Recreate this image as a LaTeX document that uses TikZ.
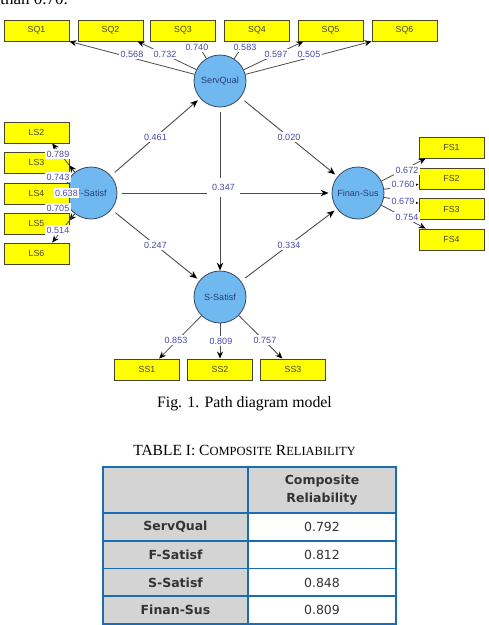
\documentclass[tikz,border=0pt]{standalone}
\usepackage{fontspec}
\setmainfont{Liberation Serif}
\newfontfamily\plsfont{Liberation Sans}
\newfontfamily\tabfont{DejaVu Sans}
\usetikzlibrary{arrows.meta, calc, positioning}

\definecolor{LatFill}{RGB}{112,184,240}
\definecolor{LatBorder}{RGB}{55,70,95}
\definecolor{LatText}{RGB}{40,60,115}
\definecolor{IndFill}{RGB}{255,255,0}
\definecolor{IndBorder}{RGB}{70,70,40}
\definecolor{IndText}{RGB}{70,70,40}
\definecolor{LoadText}{RGB}{72,72,170}
\definecolor{LinkGray}{RGB}{75,75,75}
\definecolor{TabBlue}{RGB}{28,108,180}
\definecolor{TabGray}{RGB}{212,212,212}

\begin{document}
\begin{tikzpicture}[x=1pt, y=-1pt, line width=0.8pt]
  \tikzstyle{latent}=[circle, draw=LatBorder, fill=LatFill, minimum size=52pt, inner sep=0pt,
    text=LatText, font=\plsfont\fontsize{9}{10}\selectfont]%
  \tikzstyle{indic}=[rectangle, draw=IndBorder, fill=IndFill, line width=0.9pt,
    minimum width=65pt, minimum height=21pt, inner sep=0pt,
    text=IndText, font=\plsfont\fontsize{8.8}{10}\selectfont]%
  \tikzstyle{load}=[fill=white, inner sep=1.5pt, text=LoadText,
    font=\plsfont\fontsize{9}{10}\selectfont]%
  \tikzstyle{link}=[draw=LinkGray, line width=0.9pt, shorten <=5pt, shorten >=3pt,
    -{Stealth[length=8pt, width=6.5pt, color=black]}]%
  \tikzstyle{loadarr}=[draw=LinkGray, line width=0.8pt,
    -{Stealth[length=7pt, width=6pt, color=black]}]%
  \tikzstyle{tabhead}=[font=\tabfont\bfseries\fontsize{12.5}{18}\selectfont, text=black!80]%
  \tikzstyle{tabval}=[font=\tabfont\fontsize{12.5}{14}\selectfont, text=black!80]%

  \useasboundingbox (0,0) rectangle (489,625);
  \clip (0,0) rectangle (489,625);

  % end of the paragraph above the figure
  \node[anchor=base west, inner sep=0pt, font=\fontsize{17}{20}\selectfont] (prev) at (0,4) {than 0.70.};

  % latent variables
  \node[latent] (SQ) at (220,81) {ServQual};
  \node[latent] (FSat) at (91,193) {F-Satisf};
  \node[latent] (SSat) at (220,297) {S-Satisf};
  \node[latent] (FS) at (358,193) {Finan-Sus};

  % indicators, top row
  \node[indic] (SQ1) at (36.5,30.5) {SQ1};
  \node[indic] (SQ2) at (110.5,30.5) {SQ2};
  \node[indic] (SQ3) at (183,30.5) {SQ3};
  \node[indic] (SQ4) at (257,30.5) {SQ4};
  \node[indic] (SQ5) at (330.5,30.5) {SQ5};
  \node[indic] (SQ6) at (404.5,30.5) {SQ6};
  % left column
  \node[indic] (LS2) at (36.5,132.5) {LS2};
  \node[indic] (LS3) at (36.5,162.5) {LS3};
  \node[indic] (LS4) at (36.5,193.5) {LS4};
  \node[indic] (LS5) at (36.5,223.5) {LS5};
  \node[indic] (LS6) at (36.5,253.5) {LS6};
  % right column
  \node[indic] (FS1) at (451.5,147.5) {FS1};
  \node[indic] (FS2) at (451.5,178.5) {FS2};
  \node[indic] (FS3) at (451.5,209) {FS3};
  \node[indic] (FS4) at (451.5,239.5) {FS4};
  % bottom row
  \node[indic] (SS1) at (147,369.5) {SS1};
  \node[indic] (SS2) at (220,369.5) {SS2};
  \node[indic] (SS3) at (293,369.5) {SS3};

  %% Paths
  % inner model
  \draw[link] (FSat) -- (SQ);
  \draw[link] (FSat) -- (FS);
  \draw[link] (FSat) -- (SSat);
  \draw[link] (SQ) -- (FS);
  \draw[link, shorten >=0pt] (SQ) -- (SSat);
  \draw[link] (SSat) -- (FS);

  % outer model
  \draw[loadarr] (SQ) -- (SQ1.south east);
  \draw[loadarr] (SQ) -- (SQ2.-22);
  \draw[loadarr] (SQ) -- (SQ3.-40);
  \draw[loadarr] (SQ) -- (SQ4.-137);
  \draw[loadarr] (SQ) -- (SQ5.-158);
  \draw[loadarr] (SQ) -- (SQ6.south west);

  \draw[loadarr] (FSat) -- (LS2.-35);
  \draw[loadarr] (FSat) -- (LS3.-5);
  \draw[loadarr] (FSat) -- (LS4.east);
  \draw[loadarr] (FSat) -- (LS5.5);
  \draw[loadarr] (FSat) -- (LS6.35);

  \draw[loadarr] (FS) -- (FS1.-157);
  \draw[loadarr] (FS) -- (FS2.-170);
  \draw[loadarr] (FS) -- (FS3.170);
  \draw[loadarr] (FS) -- (FS4.157);

  \draw[loadarr] (SSat) -- (SS1.42);
  \draw[loadarr] (SSat) -- (SS2.north);
  \draw[loadarr] (SSat) -- (SS3.134);

  %% Labels
  % path coefficients
  \node[load] (cFSatSQ) at ($(FSat)!0.5!(SQ)$) {0.461};
  \node[load] (cFSatSSat) at ($(FSat)!0.5!(SSat)$) {0.247};
  \node[load] (cSQFS) at ($(SQ)!0.5!(FS)$) {0.020};
  \node[load] (cSSatFS) at ($(SSat)!0.5!(FS)$) {0.334};
  \node[load, minimum width=33pt, minimum height=19pt] (cFSatFS) at (223.5,187.5) {0.347};

  % loadings
  \node[load] (lSQ1) at (132,54) {0.568};
  \node[load] (lSQ2) at (165,54) {0.732};
  \node[load] (lSQ3) at (197,47) {0.740};
  \node[load] (lSQ4) at (245,47) {0.583};
  \node[load] (lSQ5) at (276,54) {0.597};
  \node[load] (lSQ6) at (309,54) {0.505};

  \node[load] (lLS2) at (58,154) {0.789};
  \node[load] (lLS3) at (58,177) {0.743};
  \node[load] (lLS4) at (66.5,193) {0.638};
  \node[load] (lLS5) at (58,208) {0.705};
  \node[load] (lLS6) at (58,230) {0.514};

  \node[load] (lFS1) at (407,170) {0.672};
  \node[load] (lFS2) at (403,184) {0.760};
  \node[load] (lFS3) at (403,201) {0.679};
  \node[load] (lFS4) at (407,217) {0.754};

  \node[load] (lSS1) at (176,340) {0.853};
  \node[load] (lSS2) at (221,341) {0.809};
  \node[load] (lSS3) at (265,340) {0.757};

  % caption
  \node[font=\fontsize{15.8}{18}\selectfont] (figcap) at (244.5,404) {Fig. 1. Path diagram model};
  \node[font=\fontsize{15.5}{18}\selectfont] (tabcap) at (244.5,450)
    {TABLE I: C{\fontsize{12.5}{14}\selectfont OMPOSITE} R{\fontsize{12.5}{14}\selectfont ELIABILITY}};

  %% Table
  \fill[TabGray] (103,467) rectangle (248,624);
  \fill[TabGray] (248,467) rectangle (396,513);
  \fill[white] (248,513) rectangle (396,624);
  \draw[TabBlue, line width=1.6pt] (248,467) -- (248,624);
  \draw[TabBlue, line width=1.6pt] (103,513) -- (396,513);
  \draw[TabBlue, line width=1.6pt] (103,540.75) -- (396,540.75);
  \draw[TabBlue, line width=1.6pt] (103,568.5) -- (396,568.5);
  \draw[TabBlue, line width=1.6pt] (103,596.25) -- (396,596.25);
  \draw[TabBlue, line width=2.4pt] (103,467) rectangle (396,623.8);

  \node[tabhead, align=center] (thead) at (322,490) {Composite\\Reliability};
  \node[tabhead] (tSQ) at (175.5,527) {ServQual};
  \node[tabhead] (tFSat) at (175.5,555) {F-Satisf};
  \node[tabhead] (tSSat) at (175.5,583) {S-Satisf};
  \node[tabhead] (tFS) at (175.5,610) {Finan-Sus};
  \node[tabval] (vSQ) at (322,527) {0.792};
  \node[tabval] (vFSat) at (322,555) {0.812};
  \node[tabval] (vSSat) at (322,583) {0.848};
  \node[tabval] (vFS) at (322,610) {0.809};
\end{tikzpicture}
\end{document}
